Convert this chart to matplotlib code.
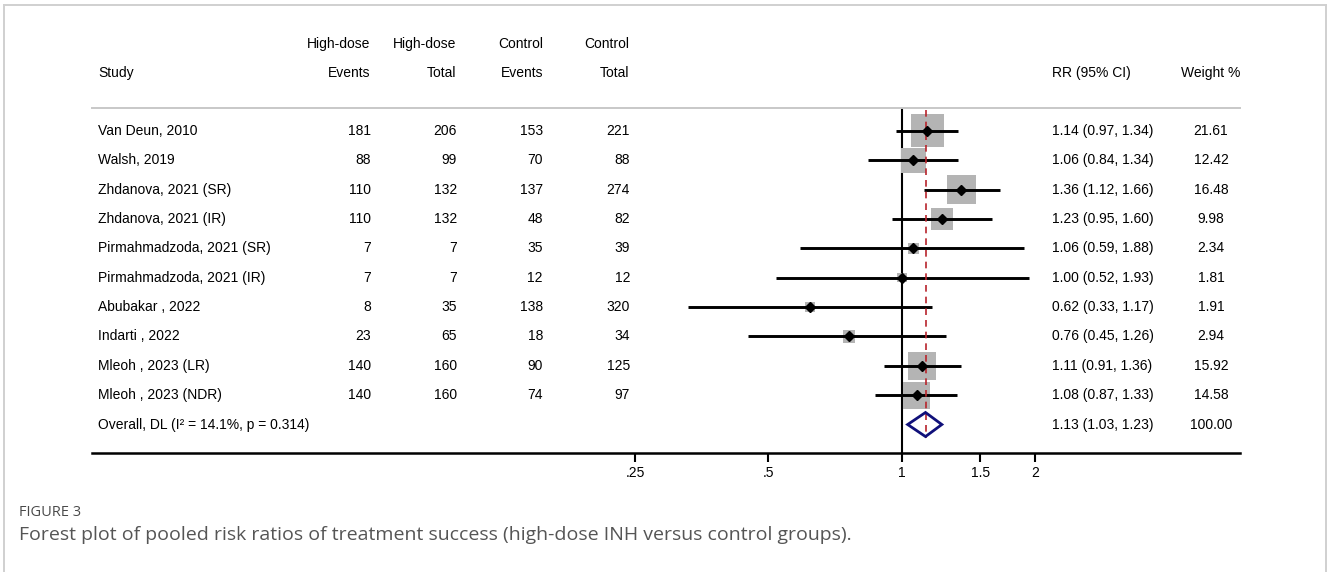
import numpy as np
import matplotlib
matplotlib.use("Agg")
import matplotlib.pyplot as plt
from matplotlib.transforms import blended_transform_factory
from matplotlib.lines import Line2D
from matplotlib.patches import Polygon

plt.rcParams['font.family'] = ['Liberation Sans', 'DejaVu Sans']

# data
studies = ["Van Deun, 2010", "Walsh, 2019", "Zhdanova, 2021 (SR)", "Zhdanova, 2021 (IR)",
           "Pirmahmadzoda, 2021 (SR)", "Pirmahmadzoda, 2021 (IR)", "Abubakar , 2022",
           "Indarti , 2022", "Mleoh , 2023 (LR)", "Mleoh , 2023 (NDR)"]
hd_events = [181, 88, 110, 110, 7, 7, 8, 23, 140, 140]
hd_total = [206, 99, 132, 132, 7, 7, 35, 65, 160, 160]
ctl_events = [153, 70, 137, 48, 35, 12, 138, 18, 90, 74]
ctl_total = [221, 88, 274, 82, 39, 12, 320, 34, 125, 97]
rr = [1.14, 1.06, 1.36, 1.23, 1.06, 1.00, 0.62, 0.76, 1.11, 1.08]
lo = [0.97, 0.84, 1.12, 0.95, 0.59, 0.52, 0.33, 0.45, 0.91, 0.87]
hi = [1.34, 1.34, 1.66, 1.60, 1.88, 1.93, 1.17, 1.26, 1.36, 1.33]
weights = [21.61, 12.42, 16.48, 9.98, 2.34, 1.81, 1.91, 2.94, 15.92, 14.58]
overall = (1.13, 1.03, 1.23)
overall_label = "Overall, DL (I\u00b2 = 14.1%, p = 0.314)"
overall_weight = "100.00"
xticks = [0.25, 0.5, 1, 1.5, 2]
xticklabels = [".25", ".5", "1", "1.5", "2"]

W, H = 1328, 572
fig = plt.figure(figsize=(W / 100, H / 100), dpi=100)

# forest axes (pixel layout of the reference)
ax = fig.add_axes([92 / W, 1 - 453 / H, (1240 - 92) / W, (453 - 108) / H])
ax.set_xscale('log')
ax.set_xlim(2 ** -6.067, 2 ** 2.532)
ax.set_ylim(10.97, -0.78)

n = len(studies)
y = np.arange(n)

ax.axvline(1, color='black', lw=1.5, zorder=1)
ax.plot([overall[0]] * 2, [-0.72, 10.45], color='#b8242c', lw=1.2,
        dashes=(4, 3), zorder=4)

sizes = 565 * np.array(weights) / 21.61
ax.scatter(rr, y, s=sizes, marker='s', color='#b4b4b4', lw=0, zorder=2)
ax.hlines(y, lo, hi, color='black', lw=2.1, zorder=3)
ax.plot(rr, y, 'D', color='black', ms=5.5, zorder=5)

est, l, h = overall
yo = n
diamond = Polygon([[l, yo], [est, yo - 0.41], [h, yo], [est, yo + 0.41]],
                  closed=True, fill=False, edgecolor='#10107a', lw=2.0, zorder=6)
ax.add_patch(diamond)

for s in ['left', 'right']:
    ax.spines[s].set_visible(False)
ax.spines['top'].set_color('#c8c8c8')
ax.spines['top'].set_linewidth(1.4)
ax.spines['bottom'].set_color('black')
ax.spines['bottom'].set_linewidth(1.8)
ax.set_yticks([])
ax.set_xticks(xticks)
ax.set_xticklabels(xticklabels, fontsize=10)
ax.minorticks_off()
ax.tick_params(axis='x', direction='out', length=6.5, width=1.5, pad=3)

# table text
tr = blended_transform_factory(fig.transFigure, ax.transData)
fs = 10


def px(x):
    return x / W


def row(y_px):
    return (y_px - 131) / 29.35


hy1, hy2 = row(44), row(73)
ax.text(px(98), hy2, "Study", transform=tr, fontsize=fs, va='center')
for xr, t1, t2 in [(370, "High-dose", "Events"), (456, "High-dose", "Total"),
                   (543, "Control", "Events"), (629, "Control", "Total")]:
    ax.text(px(xr), hy1, t1, transform=tr, fontsize=fs, ha='right', va='center')
    ax.text(px(xr), hy2, t2, transform=tr, fontsize=fs, ha='right', va='center')
ax.text(px(1052), hy2, "RR (95% CI)", transform=tr, fontsize=fs, va='center')
ax.text(px(1211), hy2, "Weight %", transform=tr, fontsize=fs, ha='center', va='center')

for i in range(n):
    ax.text(px(98), i, studies[i], transform=tr, fontsize=fs, va='center')
    for xr, v in [(371, hd_events[i]), (457, hd_total[i]),
                  (543, ctl_events[i]), (630, ctl_total[i])]:
        ax.text(px(xr), i, str(v), transform=tr, fontsize=fs, ha='right', va='center')
    ax.text(px(1052), i, f"{rr[i]:.2f} ({lo[i]:.2f}, {hi[i]:.2f})",
            transform=tr, fontsize=fs, va='center')
    ax.text(px(1211), i, f"{weights[i]:.2f}", transform=tr, fontsize=fs,
            ha='center', va='center')

ax.text(px(98), yo, overall_label, transform=tr, fontsize=fs, va='center')
ax.text(px(1052), yo, f"{est:.2f} ({l:.2f}, {h:.2f})", transform=tr,
        fontsize=fs, va='center')
ax.text(px(1211), yo, overall_weight, transform=tr, fontsize=fs,
        ha='center', va='center')

# caption
fig.text(px(19), 1 - 513 / H, "FIGURE 3", fontsize=10.5, color='#4a4a4a',
         family=['Open Sans', 'DejaVu Sans'], va='center')
fig.text(px(19), 1 - 535 / H,
         "Forest plot of pooled risk ratios of treatment success (high-dose INH versus control groups).",
         fontsize=14, color='#555555', family=['Open Sans', 'DejaVu Sans'], va='center')

# light frame around the figure panel
frame_c = '#d0d0d0'
fig.add_artist(Line2D([px(4), px(4)], [0, 1 - 5 / H], color=frame_c, lw=1.4,
                      transform=fig.transFigure))
fig.add_artist(Line2D([px(4), px(1326)], [1 - 5 / H, 1 - 5 / H], color=frame_c,
                      lw=1.4, transform=fig.transFigure))
fig.add_artist(Line2D([px(1326), px(1326)], [0, 1 - 5 / H], color=frame_c, lw=1.4,
                      transform=fig.transFigure))

fig.savefig("out.png", dpi=100)
